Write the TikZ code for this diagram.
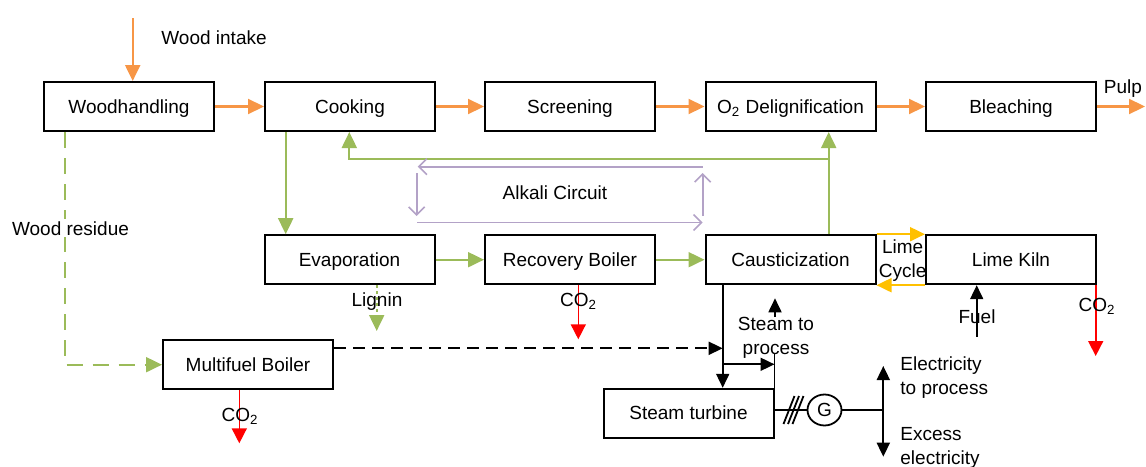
\documentclass[tikz,border=0pt]{standalone}
\usepackage{fontspec}
\setmainfont{Liberation Sans}
\usetikzlibrary{arrows.meta,shapes.geometric}
\definecolor{flowor}{HTML}{F79646}
\definecolor{flowgr}{HTML}{9BBB59}
\definecolor{flowpu}{HTML}{B3A2C7}
\definecolor{flowgo}{HTML}{FFC000}
\definecolor{flowrd}{HTML}{FF0000}
\tikzset{
  txt/.style={font=\fontsize{9.5}{11.7}\selectfont, inner sep=0pt},
  unit/.style={txt, draw=black, line width=1pt, minimum width=85pt, minimum height=24.5pt,
    text height=8.5pt, text depth=2pt},
  tri/.style={-{Triangle[length=8pt,width=7.5pt]}},
  oflow/.style={tri, draw=flowor, line width=1.1pt},
  gflow/.style={tri, draw=flowgr, line width=1pt},
  gdash/.style={gflow, dash pattern=on 8pt off 5pt},
  gdot/.style={gflow, dash pattern=on 1.5pt off 1.5pt},
  rflow/.style={-{Triangle[length=7.5pt,width=7.5pt]}, draw=flowrd, line width=0.8pt},
  yflow/.style={-{Triangle[length=7.5pt,width=7pt]}, draw=flowgo, line width=1pt},
  pflow/.style={-{Straight Barb[length=4pt,width=8pt]}, draw=flowpu, line width=0.8pt},
  kflow/.style={-{Triangle[length=7pt,width=6.5pt]}, draw=black, line width=0.9pt},
  kdash/.style={kflow, dash pattern=on 6pt off 3.5pt},
  kline/.style={draw=black, line width=0.9pt},
}
\begin{document}
\begin{tikzpicture}[x=0.5pt,y=-0.5pt]
\useasboundingbox (0,0) rectangle (1146,466);

% process units
\node[unit] (wood)   at (129,106.5)   {Woodhandling};
\node[unit] (cook)   at (350,106.5)   {Cooking};
\node[unit] (screen) at (570,106.5)   {Screening};
\node[unit] (odel)   at (790.5,106.5) {O\textsubscript{2} Delignification};
\node[unit] (bleach) at (1011,106.5)  {Bleaching};
\node[unit] (evap)   at (349.5,259.7) {Evaporation};
\node[unit] (recov)  at (570,259.7)   {Recovery Boiler};
\node[unit] (caust)  at (790.5,259.7) {Causticization};
\node[unit] (kiln)   at (1011,259.7)  {Lime Kiln};
\node[unit] (mfb)    at (248,364.7)   {Multifuel Boiler};
\node[unit] (turb)   at (688.5,413.3) {Steam turbine};
\node[txt, draw, ellipse, line width=0.9pt, minimum width=17pt, minimum height=15.5pt] (gen) at (824.5,410) {G};

% helper coordinates
\coordinate (win)  at (132.7,18);
\coordinate (pulp) at (1145,106.5);
\coordinate (xce)  at (285.7,0);
\coordinate (xret) at (349.3,0);
\coordinate (xup)  at (828.7,0);
\coordinate (ylr)  at (0,159);
\coordinate (xwr)  at (65.3,0);
\coordinate (lig)  at (376.7,331);
\coordinate (co2a) at (578.3,339.3);
\coordinate (co2b) at (239.3,443.3);
\coordinate (co2c) at (1095.7,356);
\coordinate (fuel) at (976.7,336.7);
\coordinate (xst)  at (722.7,0);
\coordinate (ydsh) at (0,348.3);
\coordinate (ybr)  at (0,364.3);
\coordinate (ytop) at (0,353);
\coordinate (stp)  at (775,317);
\coordinate (stpt) at (775,298.3);
\coordinate (bus)  at (883.3,410);
\coordinate (eup)  at (883.3,366);
\coordinate (edn)  at (883.3,456.7);
\coordinate (ak1) at (417.7,166.7);
\coordinate (ak2) at (702.7,166.7);
\coordinate (ak3) at (416.7,173);
\coordinate (ak4) at (416.7,216);
\coordinate (ak5) at (417,222.5);
\coordinate (ak6) at (702.7,222.5);
\coordinate (ak7) at (702.7,216);
\coordinate (ak8) at (702.7,173);

% fibre line
\draw[oflow] (win) -- (win |- wood.north);
\draw[oflow] (wood.east) -- (cook.west);
\draw[oflow] (cook.east) -- (screen.west);
\draw[oflow] (screen.east) -- (odel.west);
\draw[oflow] (odel.east) -- (bleach.west);
\draw[oflow] (bleach.east) -- (pulp);

% liquor loop
\draw[gflow] (cook.south -| xce) -- (evap.north -| xce);
\draw[gflow] (evap.east) -- (recov.west);
\draw[gflow] (recov.east) -- (caust.west);
\draw[gflow] (caust.north -| xup) -- (odel.south -| xup);
\draw[gflow] (xup |- ylr) -- (xret |- ylr) -- (cook.south -| xret);
\draw[gdot] (evap.south -| lig) -- (lig);

% alkali circuit
\draw[pflow] (ak2) -- (ak1);
\draw[pflow] (ak3) -- (ak4);
\draw[pflow] (ak5) -- (ak6);
\draw[pflow] (ak7) -- (ak8);
\node[txt] (alk) at (555,192.7) {Alkali Circuit};

% lime cycle
\draw[yflow] (caust.north east) -- (kiln.north west);
\draw[yflow] (kiln.south west) -- (caust.south east);
\node[txt, align=center] (lime) at (902.7,260.7) {Lime\\Cycle};
\draw[kflow] (fuel) -- (fuel |- kiln.south);
\node[txt] (fueltx) at (977,316.7) {Fuel};

% emissions
\draw[rflow] (co2a |- recov.south) -- (co2a);
\draw[rflow] (co2b |- mfb.south) -- (co2b);
\draw[rflow] (co2c |- kiln.south) -- (co2c);
\node[txt] (co2ta) at (578.5,301.7) {CO\textsubscript{2}};
\node[txt] (co2tb) at (240,416) {CO\textsubscript{2}};
\node[txt] (co2tc) at (1097,306) {CO\textsubscript{2}};
\node[txt] (lign) at (377,301.7) {Lignin};

% wood residue to multifuel boiler
\draw[gdash] (wood.south -| xwr) |- (mfb.west);
\node[txt, fill=white, inner sep=1pt] (wres) at (70.5,228.3) {Wood residue};

% steam system
\draw[kdash] (mfb.east |- ydsh) -- (xst |- ydsh);
\draw[kflow] (caust.south -| xst) -- (turb.north -| xst);
\draw[kflow] (xst |- ybr) -- (turb.north east |- ybr);
\draw[kline] (turb.north east) -- (turb.north east |- ytop);
\draw[kflow] (stp) -- (stpt);
\node[txt, align=center] (steam) at (776,337.7) {Steam to\\process};

% generator and electricity
\draw[kline] (turb.east |- gen) -- (gen.west);
\foreach \sx in {789,793.5,798} {
  \draw[kline] (\sx-5.5,424) -- (\sx+5.5,396);
}
\draw[kline] (gen.east) -- (bus);
\draw[kflow] (bus) -- (eup);
\draw[kflow] (bus) -- (edn);
\node[txt, align=left, anchor=west] (elp) at (900,377.5) {Electricity\\to process};
\node[txt, align=left, anchor=west] (elx) at (900,447.8) {Excess\\electricity};
\node[txt, anchor=west] (wintx) at (161,37.7) {Wood intake};
\node[txt] (pulptx) at (1123,88.3) {Pulp};
\end{tikzpicture}
\end{document}
